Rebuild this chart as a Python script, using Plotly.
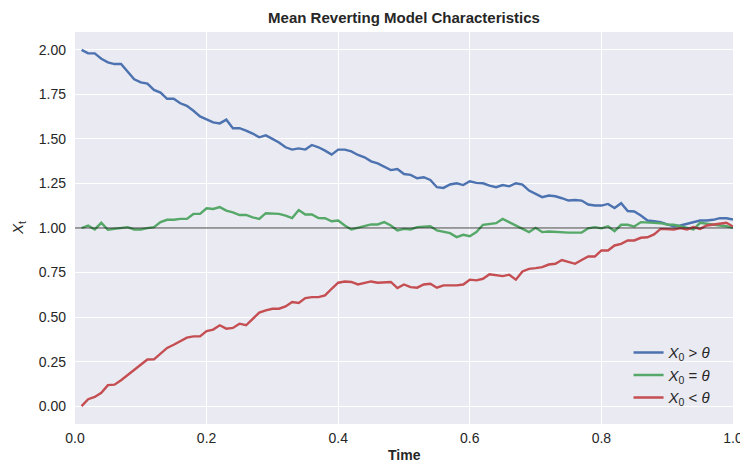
import plotly.graph_objects as go

time = [round(0.01 * (i + 1), 2) for i in range(100)]

x_above = [
    2.00, 1.98, 1.98, 1.95, 1.93, 1.92, 1.92, 1.88, 1.835, 1.817,
    1.81, 1.775, 1.76, 1.725, 1.725, 1.70, 1.686, 1.658, 1.626, 1.61,
    1.593, 1.587, 1.608, 1.56, 1.56, 1.546, 1.53, 1.509, 1.52, 1.50,
    1.48, 1.453, 1.44, 1.447, 1.44, 1.466, 1.453, 1.434, 1.412, 1.44,
    1.44, 1.43, 1.41, 1.397, 1.374, 1.363, 1.346, 1.325, 1.331, 1.303,
    1.298, 1.279, 1.285, 1.27, 1.229, 1.225, 1.244, 1.251, 1.241, 1.262,
    1.253, 1.251, 1.238, 1.229, 1.241, 1.234, 1.251, 1.244, 1.21, 1.191,
    1.173, 1.182, 1.178, 1.167, 1.154, 1.157, 1.154, 1.132, 1.126, 1.126,
    1.135, 1.112, 1.139, 1.095, 1.093, 1.07, 1.042, 1.038, 1.033, 1.02,
    1.01, 1.014, 1.023, 1.029, 1.042, 1.042, 1.046, 1.055, 1.055, 1.048,
]

x_equal = [
    1.00, 1.014, 0.992, 1.029, 0.99, 0.995, 0.999, 1.005, 0.992, 0.992,
    0.999, 1.005, 1.033, 1.046, 1.046, 1.051, 1.051, 1.079, 1.079, 1.111,
    1.107, 1.117, 1.098, 1.088, 1.073, 1.073, 1.06, 1.051, 1.083, 1.083,
    1.079, 1.07, 1.056, 1.101, 1.076, 1.076, 1.056, 1.055, 1.038, 1.042,
    1.014, 0.992, 1.001, 1.01, 1.02, 1.02, 1.033, 1.014, 0.986, 0.995,
    0.992, 1.005, 1.008, 1.01, 0.986, 0.977, 0.971, 0.949, 0.962, 0.954,
    0.977, 1.018, 1.023, 1.027, 1.051, 1.033, 1.014, 0.998, 0.977, 1.001,
    0.977, 0.98, 0.977, 0.974, 0.974, 0.974, 0.974, 0.998, 1.005, 0.998,
    1.01, 0.982, 1.018, 1.018, 1.008, 1.033, 1.033, 1.029, 1.027, 1.02,
    1.018, 1.008, 0.998, 0.992, 1.029, 1.023, 1.02, 1.014, 1.01, 1.001,
]

x_below = [
    0.0, 0.039, 0.052, 0.075, 0.118, 0.121, 0.146, 0.174, 0.205, 0.23,
    0.262, 0.263, 0.295, 0.327, 0.345, 0.364, 0.385, 0.392, 0.392, 0.422,
    0.43, 0.454, 0.435, 0.439, 0.463, 0.454, 0.487, 0.525, 0.538, 0.547,
    0.547, 0.56, 0.585, 0.579, 0.607, 0.612, 0.612, 0.622, 0.659, 0.693,
    0.70, 0.697, 0.683, 0.693, 0.70, 0.693, 0.697, 0.697, 0.663, 0.683,
    0.668, 0.665, 0.683, 0.687, 0.665, 0.678, 0.678, 0.678, 0.683, 0.71,
    0.706, 0.715, 0.74, 0.734, 0.73, 0.738, 0.71, 0.756, 0.771, 0.775,
    0.78, 0.795, 0.799, 0.82, 0.808, 0.799, 0.82, 0.84, 0.84, 0.874,
    0.874, 0.902, 0.911, 0.93, 0.93, 0.945, 0.948, 0.964, 0.995, 0.992,
    0.992, 0.999, 0.992, 1.005, 0.995, 1.014, 1.02, 1.027, 1.029, 1.008,
]

theta = 1.0

series_names = [
    "<i>X</i><sub>0</sub> > <i>θ</i>",
    "<i>X</i><sub>0</sub> = <i>θ</i>",
    "<i>X</i><sub>0</sub> < <i>θ</i>",
]
series_values = [x_above, x_equal, x_below]
colors = ["#4C72B0", "#55A868", "#C44E52"]

x_ticks = [0.0, 0.2, 0.4, 0.6, 0.8, 1.0]
y_ticks = [0.0, 0.25, 0.5, 0.75, 1.0, 1.25, 1.5, 1.75, 2.0]

FONT = "Liberation Sans, Arial, sans-serif"
TXT = "#262626"

W, H = 740, 462
ML, MR, MT, MB = 75, 7, 32, 38
plot_w = W - ML - MR
plot_h = H - MT - MB

fig = go.Figure()

fig.add_hline(y=theta, line=dict(color="rgba(20,20,20,0.8)", width=1))

for name, vals, col in zip(series_names, series_values, colors):
    fig.add_trace(go.Scatter(
        x=time, y=vals, mode="lines", name=name,
        line=dict(color=col, width=2.4),
    ))

fig.update_layout(
    width=W, height=H,
    margin=dict(l=ML, r=MR, t=MT, b=MB, autoexpand=False),
    paper_bgcolor="white",
    plot_bgcolor="#EAEAF2",
    font=dict(family=FONT, size=14, color=TXT),
    title=dict(
        text="<b>Mean Reverting Model Characteristics</b>",
        x=(ML + plot_w / 2) / W, xref="container", xanchor="center",
        y=1 - 18 / H, yref="container", yanchor="middle",
        font=dict(family=FONT, size=15, color=TXT),
        automargin=False,
    ),
    xaxis=dict(
        range=[0, 1], tickvals=x_ticks, tickformat=".1f",
        showgrid=True, gridcolor="white", gridwidth=1.2,
        zeroline=False, showline=False, ticks="", automargin=False,
        ticklabeloverflow="allow", ticklabelstandoff=4,
    ),
    yaxis=dict(
        range=[-0.1, 2.1], tickvals=y_ticks, tickformat=".2f",
        showgrid=True, gridcolor="white", gridwidth=1.2,
        zeroline=False, showline=False, ticks="", automargin=False,
        ticklabeloverflow="allow", ticklabelstandoff=8,
    ),
    legend=dict(
        x=0.975, y=0.025, xanchor="right", yanchor="bottom",
        bgcolor="rgba(0,0,0,0)", borderwidth=0,
        font=dict(size=15, color=TXT),
        tracegroupgap=0,
    ),
    showlegend=True,
    annotations=[
        dict(text="<b>Time</b>", x=0.5, xref="paper",
             y=(H - MB - 455) / plot_h, yref="paper", yanchor="middle",
             showarrow=False, font=dict(size=14, color=TXT)),
        dict(text="<i>X</i><sub>t</sub>", x=(18 - ML) / plot_w, xref="paper",
             xanchor="center", y=0.5, yref="paper",
             showarrow=False, textangle=-90, font=dict(size=15, color=TXT)),
    ],
)

fig.write_html(
    "out.html",
    config={"displayModeBar": False},
    post_script="document.body.style.margin='0';document.body.style.overflow='hidden';",
)
